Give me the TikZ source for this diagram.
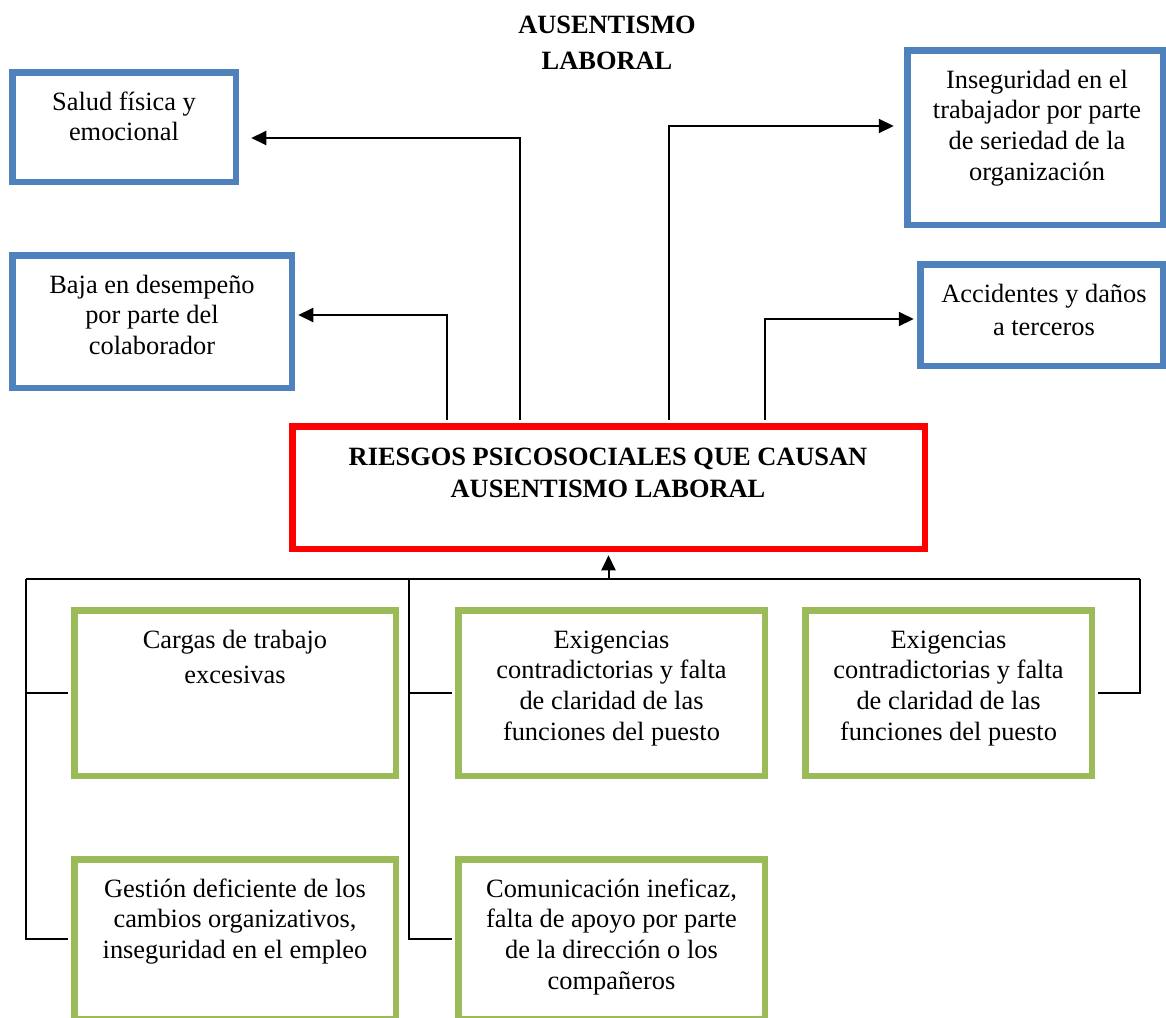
\documentclass[tikz,border=0pt]{standalone}
\usepackage{fontspec}
\setmainfont{Liberation Serif}
\usetikzlibrary{arrows.meta,calc}
\definecolor{bcol}{HTML}{4F81BD}
\definecolor{gcol}{HTML}{9BBB59}
\definecolor{rcol}{HTML}{FF0000}
\begin{document}
\begin{tikzpicture}[x=1pt,y=-1pt,
  boxb/.style={draw=bcol, line width=6.5pt, inner sep=0pt, fill=white},
  boxg/.style={draw=gcol, line width=6.5pt, inner sep=0pt, fill=white},
  boxr/.style={draw=rcol, line width=6.5pt, inner sep=0pt, fill=white},
  txt/.style={anchor=base, align=center, inner sep=0pt, font=\fontsize{26.4}{30.7}\selectfont},
  conn/.style={draw=black, line width=2pt},
  arr/.style={draw=black, line width=2pt, -{Triangle[length=15pt,width=14pt]}}
]
\useasboundingbox (0,0) rectangle (1166,1017);
\clip (0,0) rectangle (1166,1017);

% title (anchor = baseline of last line)
\node[txt, font=\bfseries\fontsize{26.4}{36}\selectfont] (title) at (607,69) {AUSENTISMO\\LABORAL};

% boxes
\node[boxb, minimum width=223.5, minimum height=109.5] (salud) at (124,127) {};
\node[boxb, minimum width=279.5, minimum height=132.5] (baja) at (152,321.5) {};
\node[boxb, minimum width=255.5, minimum height=174.5] (inseg) at (1035,137.5) {};
\node[boxb, minimum width=242.5, minimum height=101.5] (accid) at (1041.5,315) {};
\node[boxr, minimum width=632.5, minimum height=122.5] (riesgos) at (608.5,487.5) {};
\node[boxg, minimum width=321.5, minimum height=165.5] (cargas) at (235,693) {};
\node[boxg, minimum width=306.5, minimum height=165.5] (exig1) at (611.5,693) {};
\node[boxg, minimum width=286.5, minimum height=165.5] (exig2) at (948.5,693) {};
\node[boxg, minimum width=321.5, minimum height=159.5] (gestion) at (235,939) {};
\node[boxg, minimum width=306.5, minimum height=159.5] (comun) at (611.5,939) {};

% texts (anchor = baseline of last line)
\node[txt] (saludT) at (124,140.7) {Salud física y\\emocional};
\node[txt] (bajaT) at (152,354.4) {Baja en desempeño\\por parte del\\colaborador};
\node[txt] (insegT) at (1037,180.1) {Inseguridad en el\\trabajador por parte\\de seriedad de la\\organización};
\node[txt, font=\fontsize{26.4}{33}\selectfont] (accidT) at (1044,335) {Accidentes y daños\\a terceros};
\node[txt, font=\bfseries\fontsize{26.4}{32}\selectfont] (riesgosT) at (608,497) {RIESGOS PSICOSOCIALES QUE CAUSAN\\AUSENTISMO LABORAL};
\node[txt, font=\fontsize{26.4}{35}\selectfont] (cargasT) at (235,683) {Cargas de trabajo\\excesivas};
\node[txt] (exig1T) at (611.5,740.1) {Exigencias\\contradictorias y falta\\de claridad de las\\funciones del puesto};
\node[txt] (exig2T) at (948.5,740.1) {Exigencias\\contradictorias y falta\\de claridad de las\\funciones del puesto};
\node[txt] (gestionT) at (235,958.4) {Gestión deficiente de los\\cambios organizativos,\\inseguridad en el empleo};
\node[txt] (comunT) at (611.5,989.1) {Comunicación ineficaz,\\falta de apoyo por parte\\de la dirección o los\\compañeros};

% top arrows
\draw[arr] ([xshift=-161.5pt,yshift=3.25pt]riesgos.north) |- ([xshift=3.25pt,yshift=6.5pt]baja.east);
\draw[arr] ([xshift=-88.5pt,yshift=3.25pt]riesgos.north) |- ([xshift=12.25pt,yshift=-11pt]salud.east);
\draw[arr] ([xshift=60.5pt,yshift=3.25pt]riesgos.north) |- ([xshift=-10.25pt,yshift=11.5pt]inseg.west);
\draw[arr] ([xshift=156.5pt,yshift=3.25pt]riesgos.north) |- ([xshift=-3.25pt,yshift=-4pt]accid.west);

% bottom bus
\coordinate (busL) at (26,579);
\coordinate (busM) at (409,579);
\coordinate (busR) at (1140,579);
\draw[conn] ([xshift=-3.25pt]cargas.west) -| (busL);
\draw[conn] ([xshift=-3.25pt]gestion.west) -| (busL);
\draw[conn] ([xshift=-3.25pt]exig1.west) -| (busM);
\draw[conn] ([xshift=-3.25pt]comun.west) -| (busM);
\draw[conn] ([xshift=3.25pt]exig2.east) -| (busR);
\draw[conn] (busL) -- (busR);
\draw[arr] (riesgos.south |- busL) -- ([yshift=-3.25pt]riesgos.south);
\end{tikzpicture}
\end{document}
